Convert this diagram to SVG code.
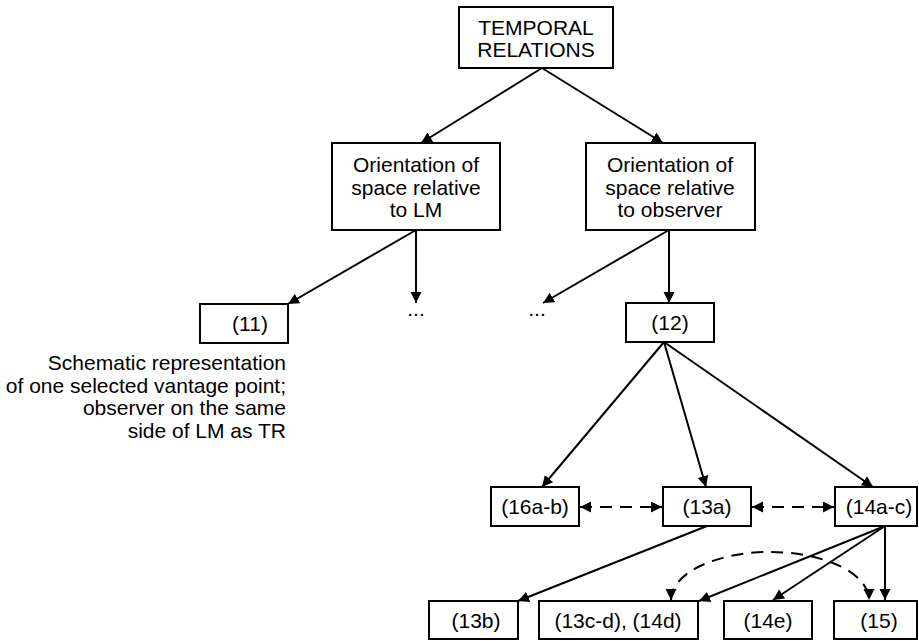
<svg xmlns="http://www.w3.org/2000/svg" width="919" height="641" viewBox="0 0 919 641">
  <style>
    .box { fill: #ffffff; stroke: #000000; stroke-width: 2; }
    .lbl { font-family: "Liberation Sans", Arial, sans-serif; font-size: 21px; fill: #000000; text-anchor: middle; }
    .cap { font-family: "Liberation Sans", Arial, sans-serif; font-size: 21px; fill: #000000; text-anchor: end; }
    .edge { fill: none; stroke: #000000; stroke-width: 2; }
    .dash { stroke-dasharray: 12 8; }
  </style>
  <defs>
    <marker id="arrow" markerUnits="userSpaceOnUse" markerWidth="12" markerHeight="12" refX="11" refY="5.5" orient="auto-start-reverse">
      <path d="M0,0 L11,5.5 L0,11 z" fill="#000000"/>
    </marker>
  </defs>

  <!-- connectors -->
  <g id="connectors">
    <line class="edge" x1="542" y1="68" x2="421" y2="143" marker-end="url(#arrow)"/>
    <line class="edge" x1="542" y1="68" x2="663" y2="143" marker-end="url(#arrow)"/>

    <line class="edge" x1="416" y1="230" x2="288" y2="304" marker-end="url(#arrow)"/>
    <line class="edge" x1="416" y1="230" x2="416" y2="303" marker-end="url(#arrow)"/>

    <line class="edge" x1="669" y1="230" x2="543" y2="303" marker-end="url(#arrow)"/>
    <line class="edge" x1="669" y1="230" x2="669" y2="303" marker-end="url(#arrow)"/>

    <line class="edge" x1="664" y1="342" x2="542" y2="487" marker-end="url(#arrow)"/>
    <line class="edge" x1="664" y1="342" x2="706" y2="487" marker-end="url(#arrow)"/>
    <line class="edge" x1="664" y1="342" x2="873" y2="487" marker-end="url(#arrow)"/>

    <line class="edge dash" x1="580" y1="507" x2="662" y2="507" marker-start="url(#arrow)" marker-end="url(#arrow)"/>
    <line class="edge dash" x1="752" y1="507" x2="834" y2="507" marker-start="url(#arrow)" marker-end="url(#arrow)"/>

    <line class="edge" x1="707" y1="526" x2="518" y2="601" marker-end="url(#arrow)"/>

    <line class="edge" x1="885" y1="526" x2="699" y2="601" marker-end="url(#arrow)"/>
    <line class="edge" x1="885" y1="526" x2="773" y2="600" marker-end="url(#arrow)"/>
    <line class="edge" x1="885" y1="526" x2="885" y2="600" marker-end="url(#arrow)"/>

    <path class="edge dash" d="M671,600 A99,48 0 0 1 869,600" marker-start="url(#arrow)" marker-end="url(#arrow)"/>
  </g>

  <!-- nodes -->
  <g id="n-temporal">
    <rect class="box" x="459" y="7" width="154" height="61"/>
    <text class="lbl" x="536" y="35">TEMPORAL</text>
    <text class="lbl" x="536" y="57">RELATIONS</text>
  </g>

  <g id="n-lm">
    <rect class="box" x="332" y="143" width="168" height="87"/>
    <text class="lbl" x="416" y="172">Orientation of</text>
    <text class="lbl" x="416" y="194.5">space relative</text>
    <text class="lbl" x="416" y="217">to LM</text>
  </g>

  <g id="n-observer">
    <rect class="box" x="586" y="143" width="169" height="87"/>
    <text class="lbl" x="670" y="172">Orientation of</text>
    <text class="lbl" x="670" y="194.5">space relative</text>
    <text class="lbl" x="670" y="217">to observer</text>
  </g>

  <g id="n-11">
    <rect class="box" x="200" y="304" width="88" height="39"/>
    <text class="lbl" x="250" y="331">(11)</text>
  </g>

  <g id="n-11-note">
    <text class="cap" x="286" y="370">Schematic representation</text>
    <text class="cap" x="286" y="392.5">of one selected vantage point;</text>
    <text class="cap" x="286" y="415">observer on the same</text>
    <text class="cap" x="286" y="437.5">side of LM as TR</text>
  </g>

  <g id="n-more-lm">
    <text class="lbl" x="416" y="316">...</text>
  </g>

  <g id="n-more-obs">
    <text class="lbl" x="537" y="316">...</text>
  </g>

  <g id="n-12">
    <rect class="box" x="626" y="303" width="88" height="39"/>
    <text class="lbl" x="670" y="330">(12)</text>
  </g>

  <g id="n-16ab">
    <rect class="box" x="491" y="487" width="88" height="39"/>
    <text class="lbl" x="535" y="514">(16a-b)</text>
  </g>

  <g id="n-13a">
    <rect class="box" x="663" y="487" width="88" height="39"/>
    <text class="lbl" x="707" y="514">(13a)</text>
  </g>

  <g id="n-14ac">
    <rect class="box" x="835" y="487" width="82" height="39"/>
    <text class="lbl" x="879" y="514">(14a-c)</text>
  </g>

  <g id="n-13b">
    <rect class="box" x="429" y="601" width="89" height="38"/>
    <text class="lbl" x="476" y="628">(13b)</text>
  </g>

  <g id="n-13cd-14d">
    <rect class="box" x="539" y="601" width="159" height="38"/>
    <text class="lbl" x="618" y="628">(13c-d), (14d)</text>
  </g>

  <g id="n-14e">
    <rect class="box" x="724" y="601" width="88" height="38"/>
    <text class="lbl" x="768" y="628">(14e)</text>
  </g>

  <g id="n-15">
    <rect class="box" x="834" y="601" width="83" height="38"/>
    <text class="lbl" x="879" y="628">(15)</text>
  </g>
</svg>
